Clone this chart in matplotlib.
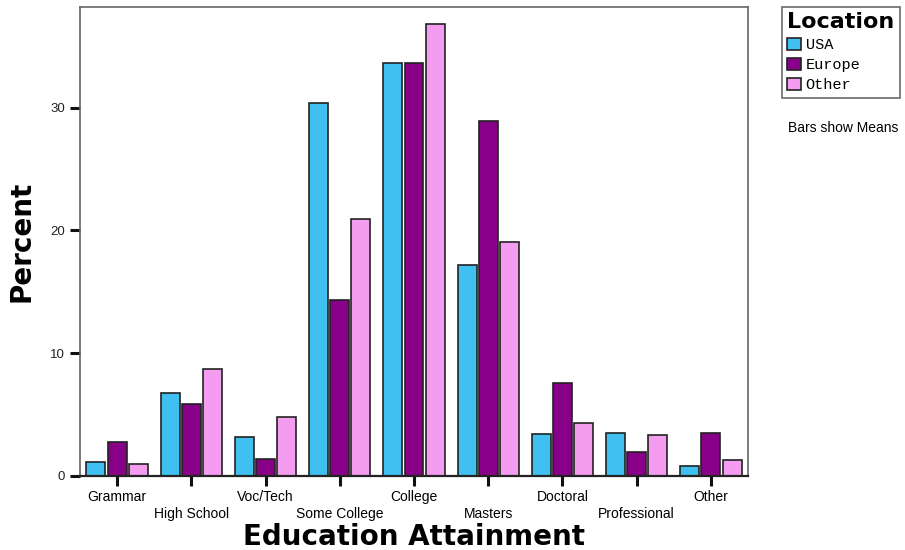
import numpy as np
import matplotlib.pyplot as plt

categories = ['Grammar', 'High School', 'Voc/Tech', 'Some College', 'College',
              'Masters', 'Doctoral', 'Professional', 'Other']
usa = [1.1, 6.8, 3.2, 30.4, 33.6, 17.2, 3.4, 3.5, 0.8]
europe = [2.75, 5.9, 1.4, 14.35, 33.6, 28.9, 7.6, 1.95, 3.5]
other = [1.0, 8.7, 4.8, 20.9, 36.8, 19.1, 4.35, 3.3, 1.3]
series_names = ['USA', 'Europe', 'Other']
colors = ['#3fc0f0', '#880088', '#f49cf0']
yticks = [0, 10, 20, 30]

fig = plt.figure(figsize=(9.05, 5.5), dpi=100)
ax = fig.add_axes([80 / 905, 74 / 550, 668 / 905, 469 / 550])

x = np.arange(len(categories))
width = 0.255
step = 0.285
for i, (vals, name, col) in enumerate(zip([usa, europe, other], series_names, colors)):
    ax.bar(x + (i - 1) * step, vals, width, color=col, edgecolor='#222222',
           linewidth=1.2, label=name, zorder=2)

ax.set_xlim(-0.5, 8.5)
ax.set_ylim(0, 38.2)

ax.set_yticks(yticks)
ax.set_yticklabels([str(t) for t in yticks], fontsize=9.5, family=['Liberation Sans'],
                   color='#222222')
ax.set_xticks(x)
labels = [c if k % 2 == 0 else '\n' + c for k, c in enumerate(categories)]
ax.set_xticklabels(labels, fontsize=10, family=['Liberation Sans'],
                   linespacing=1.25)

ax.tick_params(axis='both', direction='out', length=7, width=2.2, color='#111111')
ax.tick_params(axis='x', pad=3)
ax.tick_params(axis='y', pad=4)

for side in ['top', 'right', 'left']:
    ax.spines[side].set_color('#666666')
    ax.spines[side].set_linewidth(1.2)
ax.spines['bottom'].set_color('#222222')
ax.spines['bottom'].set_linewidth(1.6)

ax.set_xlabel('Education Attainment', fontsize=20, fontweight='heavy',
              family='DejaVu Sans', labelpad=2)
ax.set_ylabel('Percent', fontsize=20, fontweight='heavy', family='DejaVu Sans',
              labelpad=10)

leg = ax.legend(loc='upper left', bbox_to_anchor=(782 / 905, 543 / 550),
                bbox_transform=fig.transFigure, title='Location',
                prop={'family': 'Liberation Mono', 'size': 11},
                frameon=True, fancybox=False, edgecolor='#444444',
                handlelength=0.9, handleheight=0.9, handletextpad=0.3,
                labelspacing=0.35, borderpad=0.35, borderaxespad=0)
leg.get_title().set_fontsize(16)
leg.get_title().set_fontweight('heavy')
leg.get_title().set_family('DejaVu Sans')
leg._legend_box.align = 'left'
leg.get_frame().set_linewidth(1.2)

fig.text(843 / 905, 1 - 128 / 550, 'Bars show Means', fontsize=10,
         family=['Liberation Sans'], ha='center', va='center')

fig.savefig('out.png', dpi=100)
